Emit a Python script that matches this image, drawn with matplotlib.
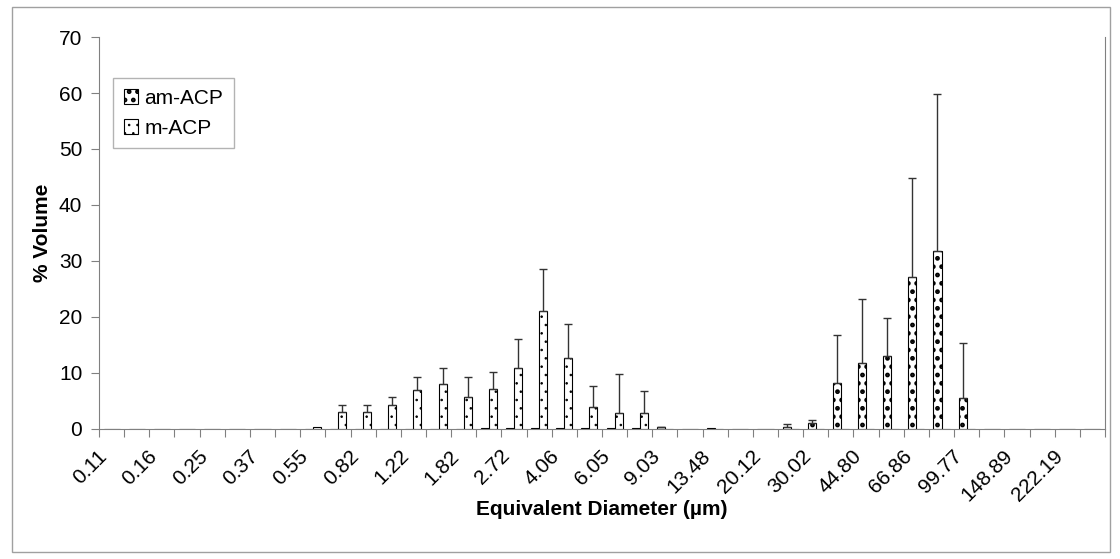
import numpy as np
import matplotlib
matplotlib.use("Agg")
import matplotlib.pyplot as plt
from matplotlib.patches import Rectangle

plt.rcParams["font.family"] = ["Liberation Sans", "DejaVu Sans"]

# Size bins (um), every other one is labelled on the axis
diameters = ["0.11", "0.13", "0.16", "0.20", "0.25", "0.30", "0.37", "0.45",
             "0.55", "0.67", "0.82", "1.00", "1.22", "1.49", "1.82", "2.23",
             "2.72", "3.32", "4.06", "4.96", "6.05", "7.39", "9.03", "11.02",
             "13.48", "16.47", "20.12", "24.58", "30.02", "36.68", "44.80",
             "54.74", "66.86", "81.68", "99.77", "121.89", "148.89", "181.89",
             "222.19", "271.44"]

# % volume per bin
am_acp = [0, 0, 0, 0, 0, 0, 0, 0, 0, 0, 0, 0, 0, 0, 0, 0.1,
          0.1, 0.1, 0.1, 0.1, 0.1, 0.1, 0.3, 0, 0.2, 0, 0, 0.4,
          1.0, 8.3, 11.8, 13.1, 27.1, 31.8, 5.6, 0, 0, 0, 0, 0]
m_acp = [0, 0, 0, 0, 0, 0, 0, 0, 0.3, 3.1, 3.1, 4.2, 7.0, 8.0, 5.7, 7.1,
         10.9, 21.1, 12.6, 4.0, 2.9, 2.8, 0, 0, 0, 0, 0, 0,
         0, 0, 0, 0, 0, 0, 0, 0, 0, 0, 0, 0]

# upper error bars (standard deviation)
am_sd = [0, 0, 0, 0, 0, 0, 0, 0, 0, 0, 0, 0, 0, 0, 0, 0,
         0, 0, 0, 0, 0, 0, 0.1, 0, 0, 0, 0, 0.5,
         0.6, 8.5, 11.4, 6.8, 17.7, 28.0, 9.8, 0, 0, 0, 0, 0]
m_sd = [0, 0, 0, 0, 0, 0, 0, 0, 0, 1.1, 1.1, 1.5, 2.3, 2.9, 3.6, 3.0,
        5.1, 7.5, 6.1, 3.7, 6.9, 3.9, 0, 0, 0, 0, 0, 0,
        0, 0, 0, 0, 0, 0, 0, 0, 0, 0, 0, 0]

x = np.arange(len(diameters))
w = 0.32
AM_LW, M_LW = 2.2, 0.6  # hatch dot weight

fig = plt.figure(figsize=(11.2, 5.59), dpi=100)
ax = fig.add_axes([0.0884, 0.2326, 0.8982, 0.7012])

# outer chart border
fig.patches.append(Rectangle((12 / 1120, 7 / 559), 1098 / 1120, 545 / 559,
                             transform=fig.transFigure, fill=False,
                             edgecolor="#a0a0a0", linewidth=1))


def set_hatch_lw(patches, lw):
    # per-artist hatch width exists in newer matplotlib only
    for p in patches:
        if hasattr(p, "set_hatch_linewidth"):
            p.set_hatch_linewidth(lw)


with plt.rc_context({"hatch.linewidth": AM_LW}):
    b1 = ax.bar(x - w / 2, am_acp, w, color="white", edgecolor="black",
                linewidth=0.8, hatch="..", label="am-ACP", zorder=2)
set_hatch_lw(b1.patches, AM_LW)
with plt.rc_context({"hatch.linewidth": M_LW}):
    b2 = ax.bar(x + w / 2, m_acp, w, color="white", edgecolor="black",
                linewidth=0.8, hatch="..", label="m-ACP", zorder=2)
set_hatch_lw(b2.patches, M_LW)

# error bars only on the positive side
am_sd = np.array(am_sd)
m_sd = np.array(m_sd)
k1 = am_sd > 0
k2 = m_sd > 0
ax.errorbar((x - w / 2)[k1], np.array(am_acp)[k1],
            yerr=[np.zeros(k1.sum()), am_sd[k1]], fmt="none",
            ecolor="#333333", elinewidth=1, capsize=2.8, capthick=1, zorder=3)
ax.errorbar((x + w / 2)[k2], np.array(m_acp)[k2],
            yerr=[np.zeros(k2.sum()), m_sd[k2]], fmt="none",
            ecolor="#333333", elinewidth=1, capsize=2.8, capthick=1, zorder=3)

ax.set_xlim(-0.5, len(diameters) - 0.5)
ax.set_ylim(0, 70)
ax.set_yticks(range(0, 71, 10))
ax.tick_params(axis="y", labelsize=15, length=5.5, color="#808080", pad=6.5)

# category boundaries carry the tick marks, labels sit under every other bin
ax.set_xticks(np.arange(-0.5, len(diameters), 1))
ax.set_xticklabels([])
ax.tick_params(axis="x", length=5.5, color="#808080")
for i in range(0, len(diameters), 2):
    ax.text(i - 0.3, -4.3, diameters[i], rotation=45, rotation_mode="anchor",
            ha="right", va="center", fontsize=15)

for s in ["left", "bottom", "right"]:
    ax.spines[s].set_color("#808080")
ax.spines["top"].set_visible(False)

ax.set_xlabel("Equivalent Diameter (µm)", fontsize=15, fontweight="bold")
ax.xaxis.set_label_coords(0.5, -0.18)
ax.set_ylabel("% Volume", fontsize=15, fontweight="bold", va="center")
ax.yaxis.set_label_coords(-0.056, 0.5)

leg = ax.legend(loc="upper left", bbox_to_anchor=(0.014, 0.895),
                borderaxespad=0, fancybox=False, fontsize=15,
                handlelength=0.7, handleheight=0.7, handletextpad=0.3,
                labelspacing=0.55, borderpad=0.5)
leg.get_frame().set_edgecolor("#a0a0a0")
leg.get_frame().set_linewidth(1)
set_hatch_lw(leg.legend_handles[:1], AM_LW)
set_hatch_lw(leg.legend_handles[1:], M_LW)

fig.savefig("out.png", dpi=100)
